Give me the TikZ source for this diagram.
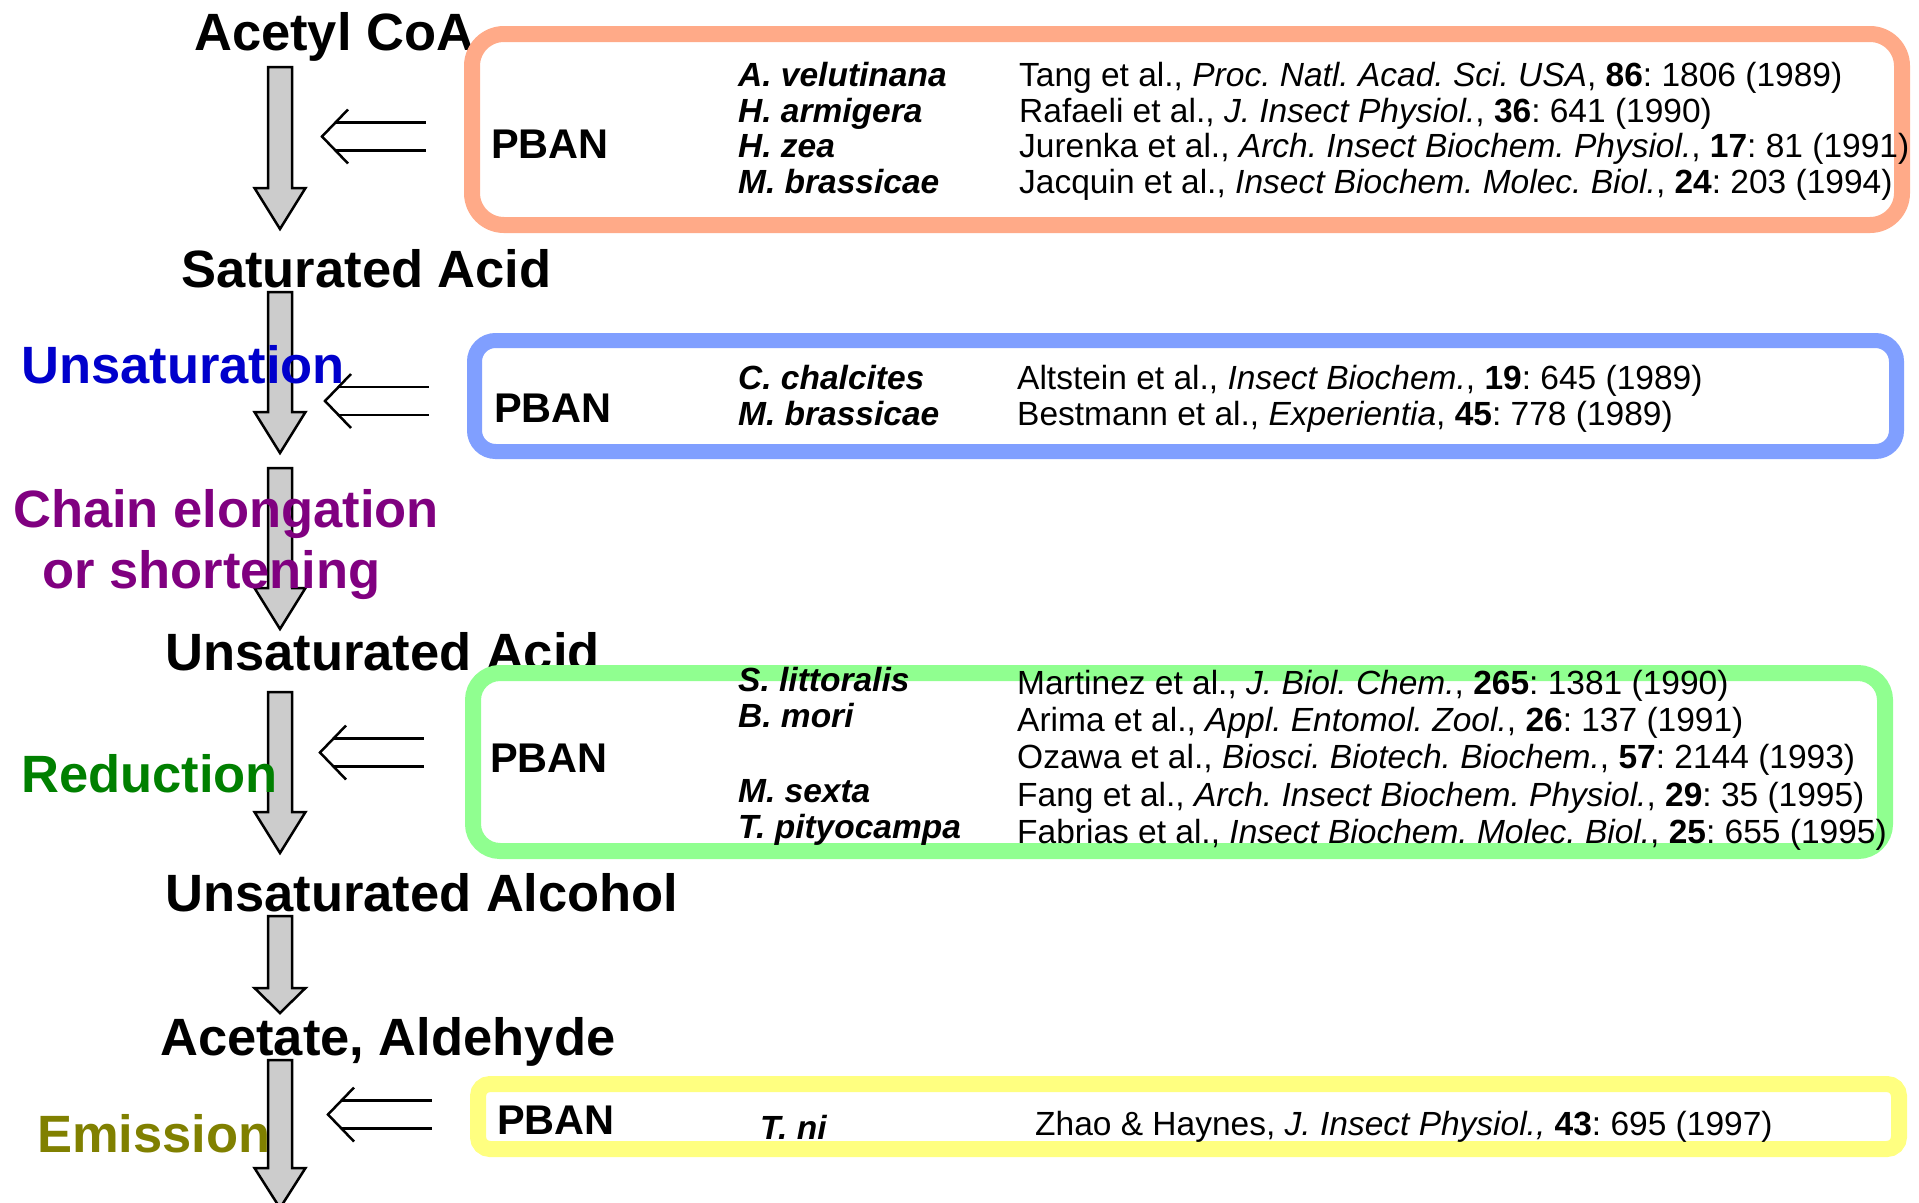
\documentclass[tikz,border=0pt]{standalone}
\usepackage{fontspec}
\setmainfont{Liberation Sans}
\frenchspacing
\definecolor{arrowgray}{HTML}{CCCCCC}
\definecolor{ublue}{HTML}{0000CC}
\definecolor{cpurple}{HTML}{800080}
\definecolor{rgreen}{HTML}{008000}
\definecolor{eolive}{HTML}{808000}
\definecolor{orangebox}{HTML}{FFAA88}
\definecolor{bluebox}{HTML}{809FFF}
\definecolor{greenbox}{HTML}{90FF90}
\definecolor{yellowbox}{HTML}{FFFF80}
\newcommand{\bigarr}[4]{% name, top, head start, tip
  \coordinate (#1top) at (280,#2);
  \coordinate (#1tip) at (280,#4);
  \draw[bigarrow] (268,#2) -- (292,#2) -- (292,#3) -- (305.5,#3) -- (#1tip) -- (254.5,#3) -- (268,#3) -- cycle;}
\newcommand{\dblarr}[3]{% name, tip x, tip y
  \coordinate (#1) at (#2,#3);
  \draw[dblarrow] ($(#1)+(26,-27)$) -- (#1) -- ($(#1)+(26,27)$);
  \draw[dblarrow] ($(#1)+(13.5,-14)$) -- ($(#1)+(104,-14)$);
  \draw[dblarrow] ($(#1)+(13.5,14)$) -- ($(#1)+(104,14)$);}
\usetikzlibrary{calc}
\begin{document}
\begin{tikzpicture}[x=1pt,y=-1pt,
  bigarrow/.style={draw=black,fill=arrowgray,line width=2.5pt,line join=miter},
  dblarrow/.style={draw=black,line width=2.5pt},
  main/.style={anchor=base west,inner sep=0pt,font=\fontsize{52.5}{60}\selectfont\bfseries},
  pban/.style={anchor=base west,inner sep=0pt,font=\fontsize{41.5}{48}\selectfont\bfseries},
  species/.style={anchor=base west,inner sep=0pt,font=\fontsize{33.5}{40}\selectfont\bfseries\itshape},
  ref/.style={anchor=base west,inner sep=0pt,font=\fontsize{33.5}{40}\selectfont},
  panel/.style={line width=16pt}]
\useasboundingbox[fill=white] (0,0) rectangle (1919,1202);

% pathway compounds
\node[main] (acoa) at (194,50) {Acetyl CoA};
\node[main] (satacid) at (181,287) {Saturated Acid};
\node[main] (unsacid) at (165,670) {Unsaturated Acid};
\node[main] (unsalc) at (165,911) {Unsaturated Alcohol};
\node[main] (acet) at (160,1055) {Acetate, Aldehyde};

% main flow arrows
\bigarr{s1}{67}{188}{229}
\bigarr{s2}{292}{412}{453}
\bigarr{s3}{468}{588}{629}
\bigarr{s4}{692}{812}{853}
\bigarr{s5}{916}{988}{1013}
\bigarr{s6}{1060}{1168}{1208}

% step labels
\node[main,text=ublue] (unsat) at (21,383) {Unsaturation};
\node[main,text=cpurple] (chain1) at (13,527) {Chain elongation};
\node[main,text=cpurple] (chain2) at (42,588) {or shortening};
\node[main,text=rgreen] (red) at (21,792) {Reduction};
\node[main,text=eolive] (emis) at (37,1152) {Emission};

% PBAN double arrows
\dblarr{d1}{322}{136.5}
\dblarr{d2}{325}{401}
\dblarr{d3}{320}{752.5}
\dblarr{d4}{328}{1114.5}

% boxes
\draw[panel,draw=orangebox,rounded corners=32pt] (472,34) rectangle (1902,225);
\draw[panel,draw=bluebox,line width=15pt,rounded corners=21pt] (474.5,340.5) rectangle (1896.5,451.5);
\draw[panel,draw=greenbox,rounded corners=27pt] (473,673) rectangle (1885,851);
\draw[panel,draw=yellowbox,rounded corners=12pt] (478,1084) rectangle (1899,1149);

% orange box content
\node[pban] (p1) at (491,158) {PBAN};
\node[species] (o1s) at (738,86) {A. velutinana};
\node[species] (o2s) at (738,122) {H. armigera};
\node[species] (o3s) at (738,157) {H. zea};
\node[species] (o4s) at (738,193) {M. brassicae};
\node[ref] (o1r) at (1019,86) {Tang et al., \textit{Proc. Natl. Acad. Sci. USA}, \textbf{86}: 1806 (1989)};
\node[ref] (o2r) at (1019,122) {Rafaeli et al., \textit{J. Insect Physiol.}, \textbf{36}: 641 (1990)};
\node[ref] (o3r) at (1019,157) {Jurenka et al., \textit{Arch. Insect Biochem. Physiol.}, \textbf{17}: 81 (1991)};
\node[ref] (o4r) at (1019,193) {Jacquin et al., \textit{Insect Biochem. Molec. Biol.}, \textbf{24}: 203 (1994)};

% blue box content
\node[pban] (p2) at (494,422) {PBAN};
\node[species] (b1s) at (738,389) {C. chalcites};
\node[species] (b2s) at (738,425) {M. brassicae};
\node[ref] (b1r) at (1017,389) {Altstein et al., \textit{Insect Biochem.}, \textbf{19}: 645 (1989)};
\node[ref] (b2r) at (1017,425) {Bestmann et al., \textit{Experientia}, \textbf{45}: 778 (1989)};

% green box content
\node[pban] (p3) at (490,772) {PBAN};
\node[species] (g1s) at (738,691) {S. littoralis};
\node[species] (g2s) at (738,727) {B. mori};
\node[species] (g4s) at (738,802) {M. sexta};
\node[species] (g5s) at (738,838) {T. pityocampa};
\node[ref] (g1r) at (1017,694) {Martinez et al., \textit{J. Biol. Chem.}, \textbf{265}: 1381 (1990)};
\node[ref] (g2r) at (1017,731) {Arima et al., \textit{Appl. Entomol. Zool.}, \textbf{26}: 137 (1991)};
\node[ref] (g3r) at (1017,768) {Ozawa et al., \textit{Biosci. Biotech. Biochem.}, \textbf{57}: 2144 (1993)};
\node[ref] (g4r) at (1017,806) {Fang et al., \textit{Arch. Insect Biochem. Physiol.}, \textbf{29}: 35 (1995)};
\node[ref] (g5r) at (1017,843) {Fabrias et al., \textit{Insect Biochem. Molec. Biol.}, \textbf{25}: 655 (1995)};

% yellow box content
\node[pban] (p4) at (497,1134) {PBAN};
\node[species] (y1s) at (760,1139) {T. ni};
\node[ref] (y1r) at (1035,1135) {Zhao \& Haynes, \textit{J. Insect Physiol.,} \textbf{43}: 695 (1997)};
\end{tikzpicture}
\end{document}
